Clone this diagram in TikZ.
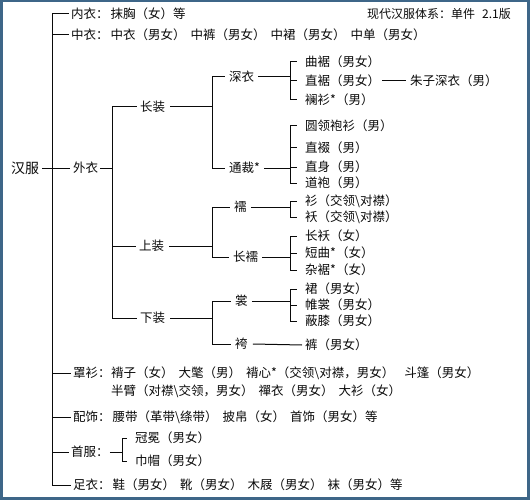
\documentclass[tikz,border=0pt]{standalone}
\usepackage{fontspec}
\setmainfont{Noto Sans CJK SC}
\usetikzlibrary{positioning}
\definecolor{framecol}{RGB}{62,102,136}
\definecolor{inkcol}{RGB}{10,10,10}
\newcommand{\itemgap}{\hspace{5pt}}

\begin{document}
\begin{tikzpicture}
[
x=1pt, y=-1pt,
every node/.style={anchor=west, inner sep=0pt, text=inkcol, font=\fontsize{12.5}{14}\selectfont},
branch/.style={draw=inkcol, line width=1pt}
]
\tikzset{big/.style={font=\fontsize{14}{16}\selectfont}, small/.style={font=\fontsize{12}{13}\selectfont}}
\useasboundingbox (0,0) rectangle (530,500);
\fill[framecol] (0,0) rectangle (530,500);
\fill[white] (3,2.5) rectangle (527,497);

\coordinate (xa) at (52,0);
\coordinate (xb) at (112,0);
\coordinate (xc) at (212,0);
\coordinate (xd) at (290,0);
\coordinate (xe) at (122,0);

\node[small, anchor=east] (title) at (511,14) {现代汉服体系：单件\hspace{7pt}2.1版};
\node (neiyi) at (71,14) {内衣：\hspace{2pt}抹胸（女）等};
\node (zhongyi) at (71,35) {中衣：\hspace{2pt}中衣（男女）\itemgap 中裤（男女）\itemgap 中裙（男女）\itemgap 中单（男女）};
\node[big] (hanfu) at (11,168) {汉服};
\node (waiyi) at (73,168) {外衣};

\node (changzhuang) at (140,107) {长装};
\node (shenyi) at (229,77) {深衣};
\node (tongcai) at (229,168) {通裁*};
\node (quju) at (305,62) {曲裾（男女）};
\node (zhiju) at (305,81) {直裾（男女）};
\node (lanshan) at (305,100) {襕衫*（男）};
\node (zhuzi) at (410,81) {朱子深衣（男）};
\node (yuanling) at (305,126) {圆领袍衫（男）};
\node (zhiduo) at (305,148) {直裰（男）};
\node (zhishen) at (305,167) {直身（男）};
\node (daopao) at (305,183) {道袍（男）};

\node (shangzhuang) at (139,246) {上装};
\node (ru) at (234,207) {襦};
\node (changru) at (233,257) {长襦};
\node (shan) at (305,201) {衫（交领\textbackslash 对襟）};
\node (ao) at (305,217) {袄（交领\textbackslash 对襟）};
\node (changao) at (305,236) {长袄（女）};
\node (duanqu) at (305,253) {短曲*（女）};
\node (zaju) at (305,270) {杂裾*（女）};

\node (xiazhuang) at (140,318) {下装};
\node (chang) at (235,301) {裳};
\node (ku) at (235,344) {袴};
\node (qun) at (305,289) {裙（男女）};
\node (weichang) at (305,305) {帷裳（男女）};
\node (bixi) at (305,321) {蔽膝（男女）};
\node (kuzi) at (305,345) {裤（男女）};

\node (zhaoshan) at (73,373) {罩衫：};
\node (zhaoshanA) [right=0pt of zhaoshan] {褙子（女）\itemgap 大氅（男）\itemgap 褙心*（交领\textbackslash 对襟，男女）\itemgap\itemgap 斗篷（男女）};
\node (zhaoshanB) at ([yshift=-18pt]zhaoshanA.west) {半臂（对襟\textbackslash 交领，男女）\itemgap 禪衣（男女）\itemgap 大衫（女）};
\node (peishi) at (73,417) {配饰：\hspace{2pt}腰带（革带\textbackslash 绦带）\itemgap 披帛（女）\itemgap 首饰（男女）等};
\node (shoufu) at (71,452) {首服：};
\node (guanmian) at (135,438) {冠冕（男女）};
\node (jinmao) at (135,461) {巾帽（男女）};
\node (zuyi) at (73,485) {足衣：\hspace{2pt}鞋（男女）\itemgap 靴（男女）\itemgap 木屐（男女）\itemgap 袜（男女）等};

\draw[branch] (neiyi.west -| xa) -- (zuyi.west -| xa);
\foreach \n in {neiyi,zhongyi,zhaoshan,peishi,shoufu,zuyi}
  \draw[branch] (\n.west -| xa) -- ([xshift=-2pt]\n.west);
\draw[branch] ([xshift=3pt]hanfu.east) -- ([xshift=-3pt]waiyi.west);

\draw[branch] ([xshift=2pt]waiyi.east) -- (waiyi.east -| xb);
\foreach \n in {changzhuang,shangzhuang,xiazhuang}
  \draw[branch] (waiyi.east -| xb) |- ([xshift=-3pt]\n.west);

\foreach \p/\kids in {changzhuang/{shenyi,tongcai}, shangzhuang/{ru,changru}, xiazhuang/{chang,ku}} {
  \draw[branch] ([xshift=5pt]\p.east) -- (\p.east -| xc);
  \foreach \k in \kids
    \draw[branch] (\p.east -| xc) |- ([xshift=-4pt]\k.west);
}

\foreach \p/\kids in {shenyi/{quju,zhiju,lanshan}, tongcai/{yuanling,zhiduo,zhishen,daopao}, ru/{shan,ao}, changru/{changao,duanqu,zaju}, chang/{qun,weichang,bixi}} {
  \draw[branch] ([xshift=4pt]\p.east) -- (\p.east -| xd);
  \foreach \k in \kids
    \draw[branch] (\p.east -| xd) |- ([xshift=-8pt]\k.west);
}

\draw[branch] ([xshift=5pt]ku.east) -- ([xshift=-3pt]kuzi.west);
\draw[branch] ([xshift=2pt]zhiju.east) -- ([xshift=-4pt]zhuzi.west);

\draw[branch] ([xshift=1pt]shoufu.east) -- (shoufu.east -| xe);
\foreach \k in {guanmian,jinmao}
  \draw[branch] (shoufu.east -| xe) |- ([xshift=-8pt]\k.west);
\end{tikzpicture}
\end{document}
